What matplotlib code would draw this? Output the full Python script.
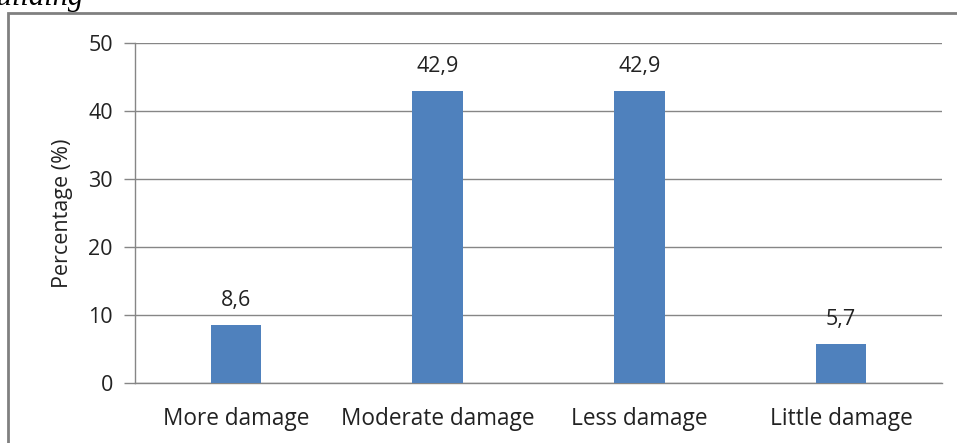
import matplotlib as mpl
import matplotlib.pyplot as plt
from matplotlib.patches import Rectangle

categories = ['More damage', 'Moderate damage', 'Less damage', 'Little damage']
values = [8.6, 42.9, 42.9, 5.7]
value_labels = ['8,6', '42,9', '42,9', '5,7']
yticks = [0, 10, 20, 30, 40, 50]

mpl.rc('font', family=['Open Sans', 'DejaVu Sans'])

W, H = 957, 443
fig = plt.figure(figsize=(W / 100, H / 100), dpi=100)
ax = fig.add_axes([135 / W, 1 - 383 / H, (942 - 135) / W, (383 - 43) / H])

grey = '#868686'
txt = '#222222'
fs = 15.5
x = list(range(len(categories)))
ax.bar(x, values, width=0.25, color='#4F81BD', zorder=3)
for xi, v, lab in zip(x, values, value_labels):
    ax.annotate(lab, (xi, v), xytext=(0, 10), textcoords='offset points',
                ha='center', va='bottom', fontsize=fs, color=txt)

ax.set_xlim(-0.5, len(categories) - 0.5)
ax.set_ylim(0, 50)
ax.set_yticks(yticks)
ax.set_xticks(x)
ax.set_xticklabels(categories)
ax.tick_params(axis='x', length=0, pad=17, labelsize=16.3, labelcolor=txt)
ax.tick_params(axis='y', length=8, width=1, color=grey, pad=8, labelsize=fs, labelcolor=txt)
ax.yaxis.grid(True, color=grey, lw=1)
ax.set_axisbelow(True)
for s in ['top', 'right']:
    ax.spines[s].set_visible(False)
for s in ['left', 'bottom']:
    ax.spines[s].set_color(grey)
    ax.spines[s].set_linewidth(1)
ax.set_ylabel('Percentage (%)', fontsize=fs, color=txt)
ax.yaxis.set_label_coords(-62 / (942 - 135), 0.5)

# outer frame of the chart
fig.patches.append(Rectangle((8 / W, -0.2), 1.1, 1.2 - 13 / H, transform=fig.transFigure,
                             fill=False, ec='#808080', lw=2))
# cut-off caption above
fig.text(-21 / W, 1 - 5 / H, 'Building', family='Liberation Serif', style='italic',
         fontsize=22, va='baseline', ha='left')

fig.savefig('out.png', dpi=100)
